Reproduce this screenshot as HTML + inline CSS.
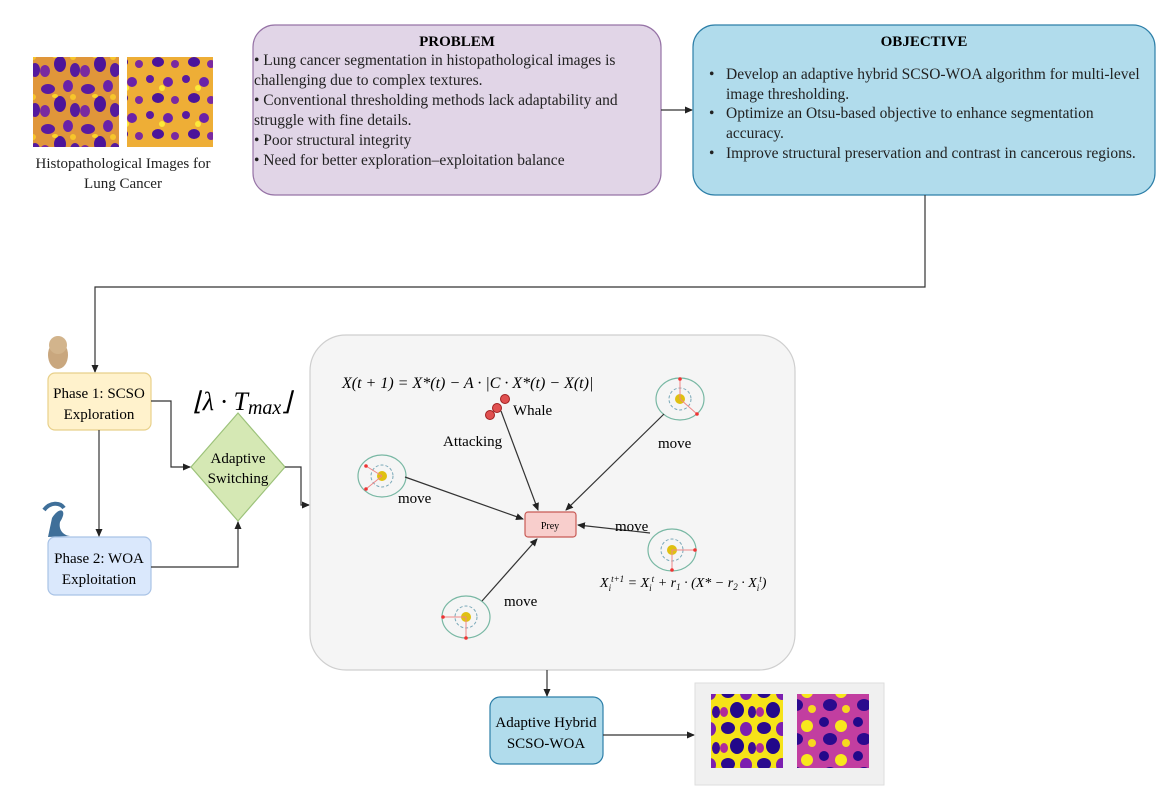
<!DOCTYPE html>
<html><head><meta charset="utf-8"><style>
html,body{margin:0;padding:0;background:#fff;}
svg{display:block;font-family:"Liberation Serif",serif;}
</style></head><body>
<svg width="1169" height="812" viewBox="0 0 1169 812" xmlns="http://www.w3.org/2000/svg">
<defs>
<marker id="ar" markerWidth="8" markerHeight="8" refX="7" refY="4" orient="auto" markerUnits="userSpaceOnUse"><path d="M0,0.5 L8,4 L0,7.5 Z" fill="#222"/></marker>
<pattern id="tex1" width="40" height="40" patternUnits="userSpaceOnUse">
<rect width="40" height="40" fill="#e0963a"/>
<ellipse cx="8" cy="9" rx="7" ry="5" fill="#5a1aa0"/><ellipse cx="28" cy="6" rx="5" ry="6" fill="#6a22a8"/>
<ellipse cx="20" cy="24" rx="6" ry="8" fill="#4b149a"/><ellipse cx="5" cy="31" rx="5" ry="6" fill="#7a2aa0"/>
<ellipse cx="35" cy="30" rx="5" ry="7" fill="#551a9e"/><ellipse cx="15" cy="16" rx="3" ry="2" fill="#fbd62a"/>
<ellipse cx="33" cy="17" rx="3" ry="3" fill="#f7c52b"/>
</pattern>
<pattern id="tex2" width="36" height="36" patternUnits="userSpaceOnUse">
<rect width="36" height="36" fill="#eeae36"/>
<circle cx="6" cy="7" r="4" fill="#5a1aa0"/><circle cx="24" cy="10" r="5" fill="#6a22a8"/>
<ellipse cx="14" cy="26" rx="6" ry="5" fill="#4b149a"/><circle cx="31" cy="28" r="4" fill="#7a2aa0"/>
<circle cx="18" cy="16" r="3" fill="#fce93a"/>
</pattern>
<pattern id="tex3" width="36" height="36" patternUnits="userSpaceOnUse">
<rect width="36" height="36" fill="#f6e318"/>
<ellipse cx="8" cy="8" rx="7" ry="6" fill="#2a0a8e"/><ellipse cx="26" cy="9" rx="6" ry="7" fill="#7c1fb0"/>
<ellipse cx="17" cy="26" rx="7" ry="8" fill="#22088a"/><ellipse cx="4" cy="28" rx="4" ry="5" fill="#b02a9a"/>
<ellipse cx="32" cy="28" rx="4" ry="6" fill="#3a0c96"/>
</pattern>
<pattern id="tex4" width="34" height="34" patternUnits="userSpaceOnUse">
<rect width="34" height="34" fill="#c23ea0"/>
<circle cx="8" cy="8" r="5" fill="#22088a"/><circle cx="25" cy="12" r="6" fill="#f8e81c"/>
<ellipse cx="14" cy="25" rx="7" ry="6" fill="#2a0a8e"/><circle cx="30" cy="29" r="4" fill="#f6d820"/>
</pattern>
</defs>

<rect x="33" y="57" width="86" height="90" fill="url(#tex1)"/>
<rect x="127" y="57" width="86" height="90" fill="url(#tex2)"/>
<text x="123" y="168" font-size="15" text-anchor="middle" fill="#222">Histopathological Images for</text>
<text x="123" y="188" font-size="15" text-anchor="middle" fill="#222">Lung Cancer</text>

<rect x="253" y="25" width="408" height="170" rx="22" fill="#e1d5e7" stroke="#9673a6" stroke-width="1.2"/>
<text x="457" y="46" font-size="15" font-weight="bold" text-anchor="middle">PROBLEM</text>
<g font-size="15.5" fill="#222">
<text x="254" y="65">• Lung cancer segmentation in histopathological images is</text>
<text x="254" y="85">challenging due to complex textures.</text>
<text x="254" y="105">• Conventional thresholding methods lack adaptability and</text>
<text x="254" y="125">struggle with fine details.</text>
<text x="254" y="145">• Poor structural integrity</text>
<text x="254" y="165">• Need for better exploration–exploitation balance</text>
</g>
<line x1="661" y1="110" x2="692" y2="110" stroke="#333" stroke-width="1.2" marker-end="url(#ar)"/>

<rect x="693" y="25" width="462" height="170" rx="22" fill="#b1dcec" stroke="#2d7fa8" stroke-width="1.2"/>
<text x="924" y="46" font-size="15" font-weight="bold" text-anchor="middle">OBJECTIVE</text>
<g font-size="15.5" fill="#222">
<text x="709" y="79">•</text><text x="726" y="79">Develop an adaptive hybrid SCSO-WOA algorithm for multi-level</text>
<text x="726" y="99">image thresholding.</text>
<text x="709" y="118">•</text><text x="726" y="118">Optimize an Otsu-based objective to enhance segmentation</text>
<text x="726" y="138">accuracy.</text>
<text x="709" y="158">•</text><text x="726" y="158">Improve structural preservation and contrast in cancerous regions.</text>
</g>
<polyline points="925,195 925,287 95,287 95,372" fill="none" stroke="#333" stroke-width="1.2" marker-end="url(#ar)"/>

<ellipse cx="58" cy="355" rx="10" ry="14" fill="#c9a77e"/>
<circle cx="58" cy="345" r="9" fill="#d2b48c"/>
<path d="M52,518 C60,505 68,510 60,522 C58,532 66,536 70,536 L48,537 Z" fill="#3f6f99"/>
<path d="M44,510 C50,502 60,502 64,508" fill="none" stroke="#3f6f99" stroke-width="4"/>

<rect x="48" y="373" width="103" height="57" rx="7" fill="#fff2cc" stroke="#e8d08a" stroke-width="1.2"/>
<text x="99" y="398" font-size="15" text-anchor="middle">Phase 1: SCSO</text>
<text x="99" y="419" font-size="15" text-anchor="middle">Exploration</text>
<rect x="48" y="537" width="103" height="58" rx="7" fill="#dae8fc" stroke="#a9c3e6" stroke-width="1.2"/>
<text x="99" y="563" font-size="15" text-anchor="middle">Phase 2: WOA</text>
<text x="99" y="584" font-size="15" text-anchor="middle">Exploitation</text>
<line x1="99" y1="430" x2="99" y2="536" stroke="#333" stroke-width="1.2" marker-end="url(#ar)"/>

<polygon points="238,413 285,467 238,521 191,467" fill="#d5e8b4" stroke="#9cc27a" stroke-width="1.2"/>
<text x="238" y="463" font-size="15" text-anchor="middle">Adaptive</text>
<text x="238" y="483" font-size="15" text-anchor="middle">Switching</text>
<text x="242" y="410" font-size="26" text-anchor="middle" font-style="italic">⌊λ · T<tspan font-size="20" dy="4">max</tspan><tspan dy="-4">⌋</tspan></text>
<polyline points="151,401 171,401 171,467 190,467" fill="none" stroke="#333" stroke-width="1.2" marker-end="url(#ar)"/>
<polyline points="151,567 238,567 238,522" fill="none" stroke="#333" stroke-width="1.2" marker-end="url(#ar)"/>
<polyline points="285,467 301,467 301,505 309,505" fill="none" stroke="#333" stroke-width="1.2" marker-end="url(#ar)"/>

<rect x="310" y="335" width="485" height="335" rx="36" fill="#f5f5f5" stroke="#cfcfcf" stroke-width="1.2"/>
<text x="342" y="388" font-size="16" font-style="italic">X(t + 1) = X*(t) − A · |C · X*(t) − X(t)|</text>
<circle cx="490" cy="415" r="4.5" fill="#e05050" stroke="#a02020"/>
<circle cx="497" cy="408" r="4.5" fill="#e05050" stroke="#a02020"/>
<circle cx="505" cy="399" r="4.5" fill="#e05050" stroke="#a02020"/>
<text x="513" y="415" font-size="15">Whale</text>
<text x="443" y="446" font-size="15">Attacking</text>
<line x1="501" y1="411" x2="538" y2="510" stroke="#333" stroke-width="1.2" marker-end="url(#ar)"/>

<rect x="525" y="512" width="51" height="25" rx="3" fill="#f8cecc" stroke="#c85a55" stroke-width="1.2"/>
<text x="550" y="529" font-size="10" text-anchor="middle">Prey</text>

<ellipse cx="382" cy="476" rx="24" ry="21" fill="none" stroke="#79b8a4" stroke-width="1.2"/>
<circle cx="382" cy="476" r="11" fill="none" stroke="#79a8b8" stroke-dasharray="3,2"/>
<circle cx="382" cy="476" r="5" fill="#e0c010"/>
<line x1="382" y1="476" x2="366" y2="466" stroke="#e88"/><line x1="382" y1="476" x2="366" y2="489" stroke="#e88"/>
<circle cx="366" cy="466" r="1.8" fill="#e33"/><circle cx="366" cy="489" r="1.8" fill="#e33"/>

<ellipse cx="680" cy="399" rx="24" ry="21" fill="none" stroke="#79b8a4" stroke-width="1.2"/>
<circle cx="680" cy="399" r="11" fill="none" stroke="#79a8b8" stroke-dasharray="3,2"/>
<circle cx="680" cy="399" r="5" fill="#e0c010"/>
<line x1="680" y1="399" x2="680" y2="379" stroke="#e88"/><line x1="680" y1="399" x2="697" y2="414" stroke="#e88"/>
<circle cx="680" cy="379" r="1.8" fill="#e33"/><circle cx="697" cy="414" r="1.8" fill="#e33"/>

<ellipse cx="672" cy="550" rx="24" ry="21" fill="none" stroke="#79b8a4" stroke-width="1.2"/>
<circle cx="672" cy="550" r="11" fill="none" stroke="#79a8b8" stroke-dasharray="3,2"/>
<circle cx="672" cy="550" r="5" fill="#e0c010"/>
<line x1="672" y1="550" x2="695" y2="550" stroke="#e88"/><line x1="672" y1="550" x2="672" y2="570" stroke="#e88"/>
<circle cx="695" cy="550" r="1.8" fill="#e33"/><circle cx="672" cy="570" r="1.8" fill="#e33"/>

<ellipse cx="466" cy="617" rx="24" ry="21" fill="none" stroke="#79b8a4" stroke-width="1.2"/>
<circle cx="466" cy="617" r="11" fill="none" stroke="#79a8b8" stroke-dasharray="3,2"/>
<circle cx="466" cy="617" r="5" fill="#e0c010"/>
<line x1="466" y1="617" x2="443" y2="617" stroke="#e88"/><line x1="466" y1="617" x2="466" y2="638" stroke="#e88"/>
<circle cx="443" cy="617" r="1.8" fill="#e33"/><circle cx="466" cy="638" r="1.8" fill="#e33"/>

<line x1="405" y1="477" x2="523" y2="519" stroke="#333" stroke-width="1.2" marker-end="url(#ar)"/>
<line x1="664" y1="414" x2="566" y2="510" stroke="#333" stroke-width="1.2" marker-end="url(#ar)"/>
<line x1="650" y1="533" x2="578" y2="525" stroke="#333" stroke-width="1.2" marker-end="url(#ar)"/>
<line x1="482" y1="601" x2="537" y2="539" stroke="#333" stroke-width="1.2" marker-end="url(#ar)"/>
<g font-size="15">
<text x="398" y="503">move</text>
<text x="658" y="448">move</text>
<text x="615" y="531">move</text>
<text x="504" y="606">move</text>
</g>
<text x="600" y="587" font-size="14" font-style="italic">X<tspan font-size="9" dy="4">i</tspan><tspan font-size="9" dy="-9">t+1</tspan><tspan dy="5"> = X</tspan><tspan font-size="9" dy="4">i</tspan><tspan font-size="9" dy="-9">t</tspan><tspan dy="5"> + r</tspan><tspan font-size="9" dy="3">1</tspan><tspan dy="-3"> · (X* − r</tspan><tspan font-size="9" dy="3">2</tspan><tspan dy="-3"> · X</tspan><tspan font-size="9" dy="4">i</tspan><tspan font-size="9" dy="-9">t</tspan><tspan dy="5">)</tspan></text>

<line x1="547" y1="670" x2="547" y2="696" stroke="#333" stroke-width="1.2" marker-end="url(#ar)"/>
<rect x="490" y="697" width="113" height="67" rx="10" fill="#b1dcec" stroke="#2d7fa8" stroke-width="1.2"/>
<text x="546" y="727" font-size="15" text-anchor="middle">Adaptive Hybrid</text>
<text x="546" y="748" font-size="15" text-anchor="middle">SCSO-WOA</text>
<line x1="603" y1="735" x2="694" y2="735" stroke="#333" stroke-width="1.2" marker-end="url(#ar)"/>
<rect x="695" y="683" width="189" height="102" fill="#f0f0f0" stroke="#dedede"/>
<rect x="711" y="694" width="72" height="74" fill="url(#tex3)"/>
<rect x="797" y="694" width="72" height="74" fill="url(#tex4)"/>
</svg>
</body></html>
